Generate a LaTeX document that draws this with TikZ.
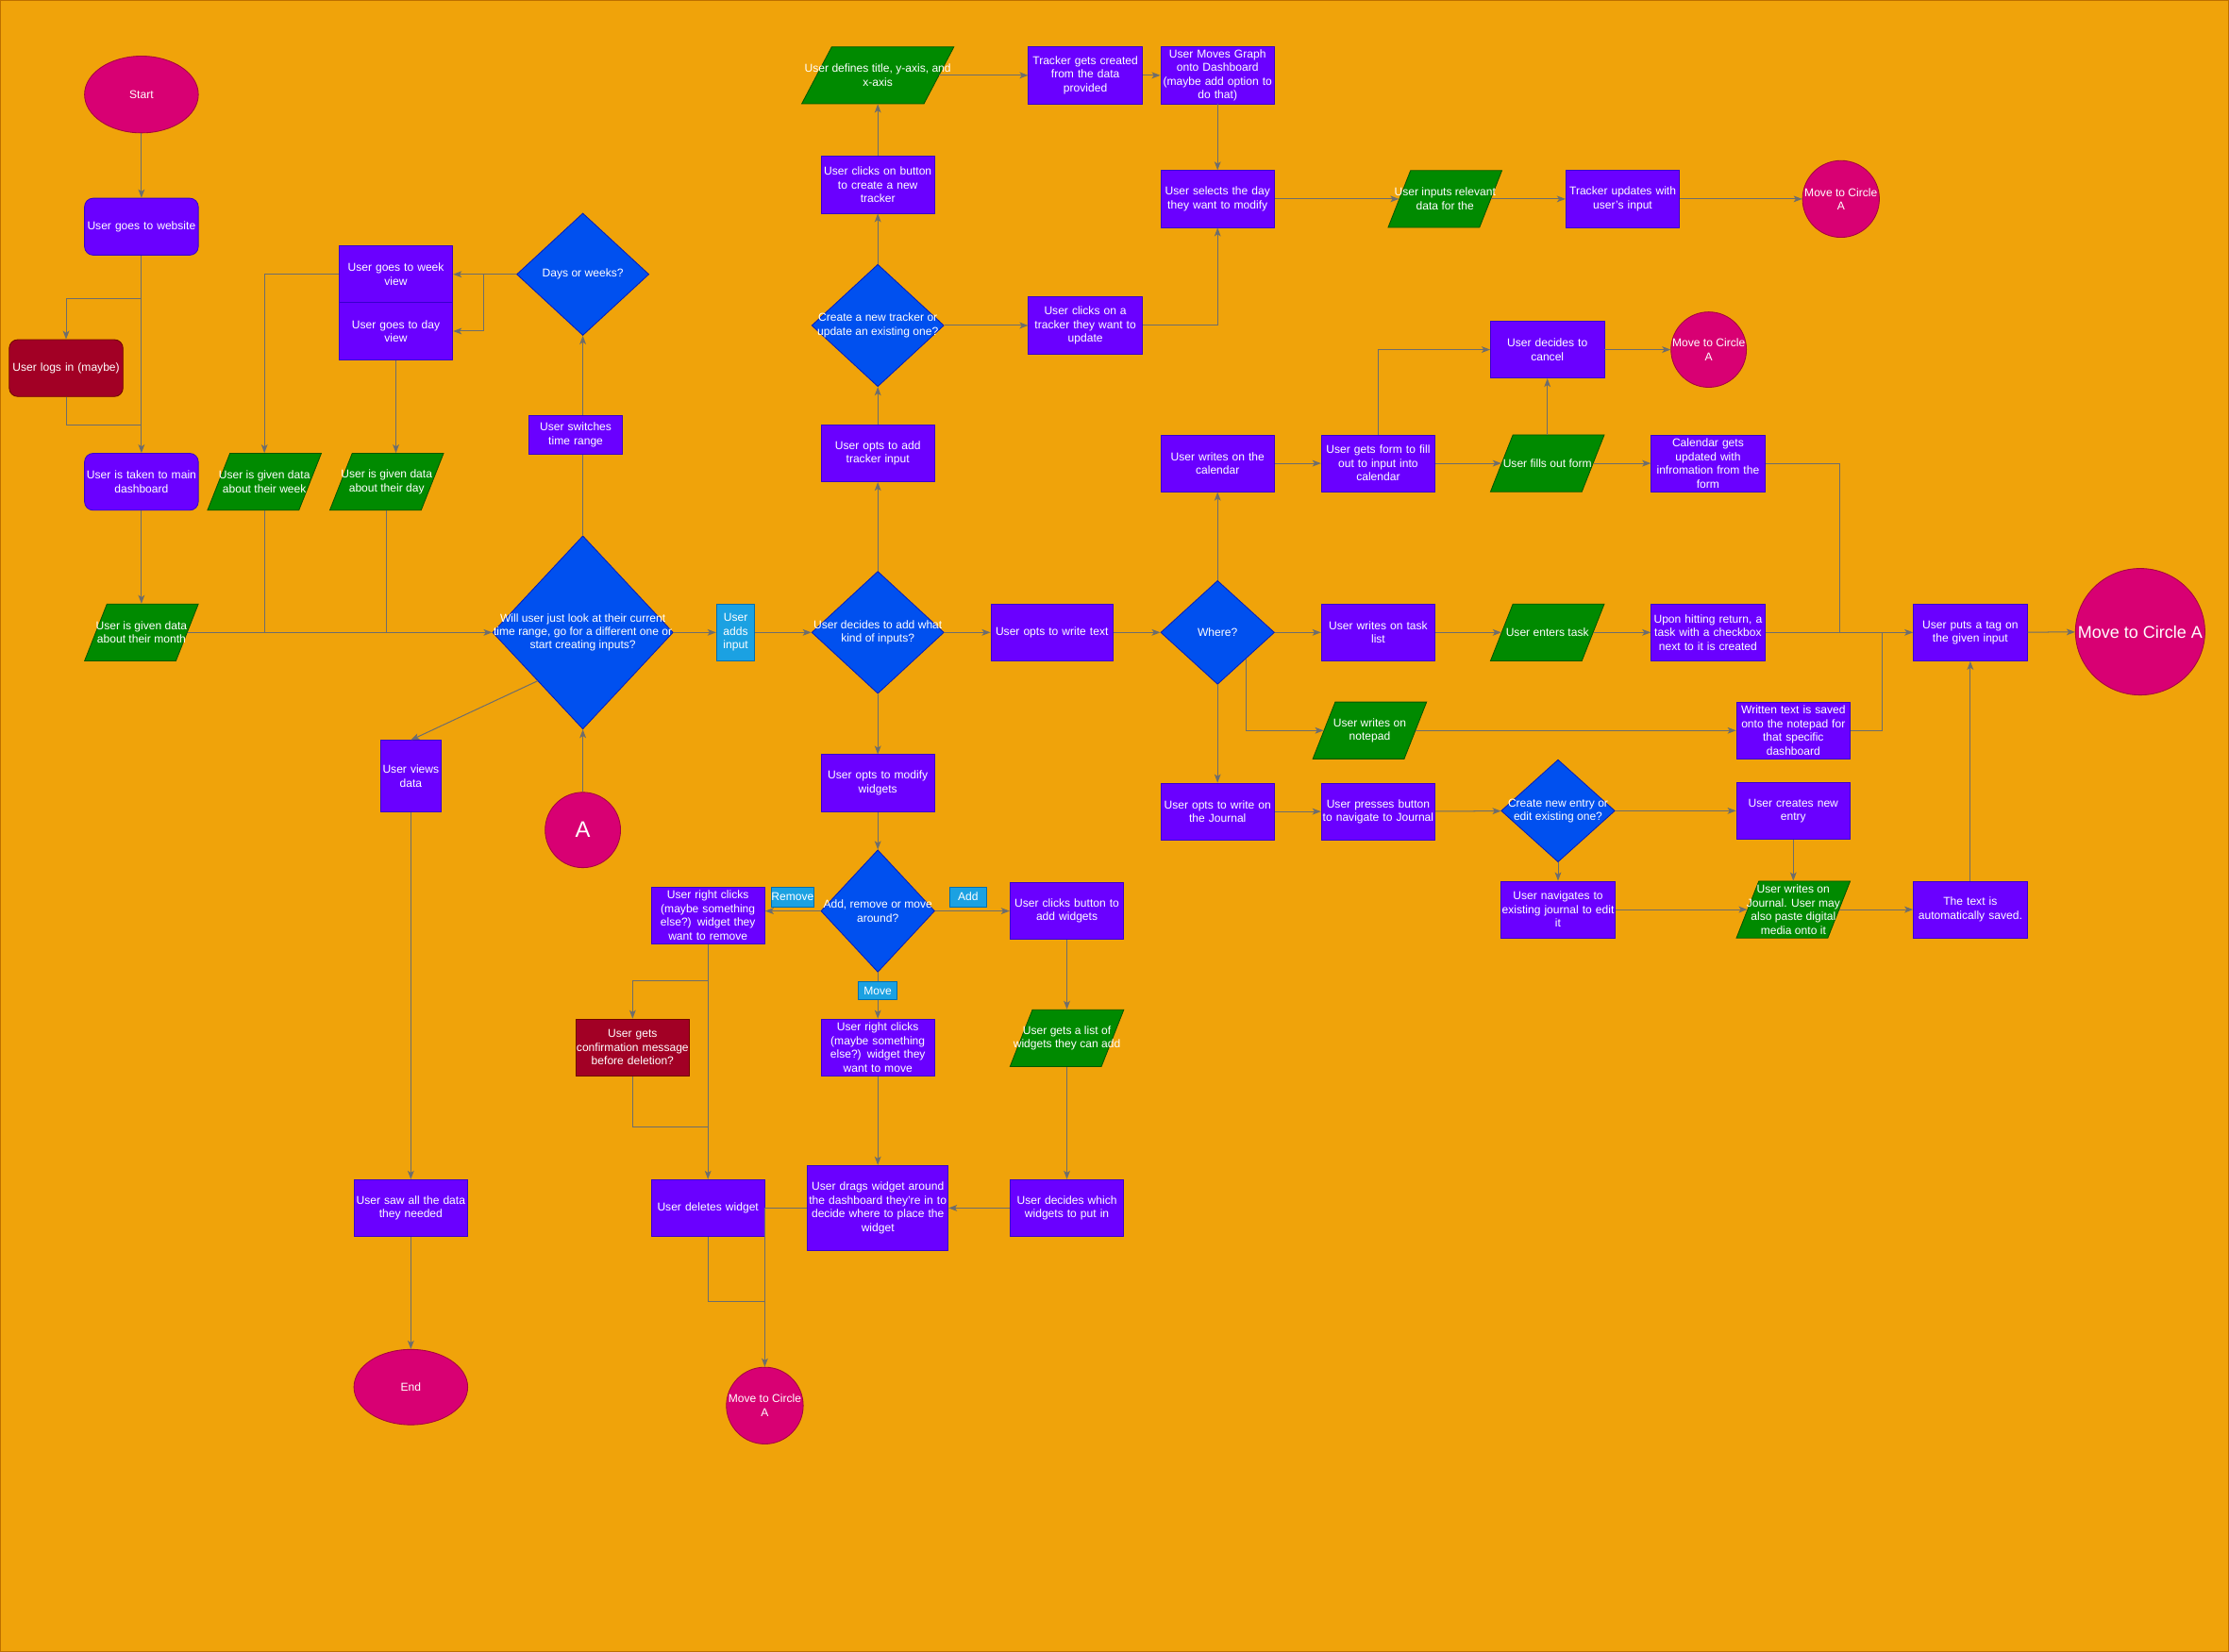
\documentclass[tikz,border=0pt]{standalone}
\usepackage{fontspec}
\setmainfont{Liberation Sans}
\usetikzlibrary{shapes.geometric,arrows.meta}
\definecolor{bgorange}{HTML}{F0A30A}
\definecolor{bgedge}{HTML}{BD7000}
\definecolor{violetfill}{HTML}{6A00FF}
\definecolor{violetedge}{HTML}{3700CC}
\definecolor{greenfill}{HTML}{008A00}
\definecolor{greenedge}{HTML}{005700}
\definecolor{bluefill}{HTML}{0050EF}
\definecolor{blueedge}{HTML}{001DBC}
\definecolor{pinkfill}{HTML}{D80073}
\definecolor{pinkedge}{HTML}{A50040}
\definecolor{redfill}{HTML}{A20025}
\definecolor{rededge}{HTML}{6F0000}
\definecolor{tagfill}{HTML}{1BA1E2}
\definecolor{tagedge}{HTML}{006EAF}
\definecolor{edgegray}{HTML}{6D6D6D}
\tikzset{
  every node/.style={font=\fontsize{22.8}{27.3}\selectfont, text=white, inner sep=0pt, line width=1.6pt},
  box/.style={rectangle, draw=violetedge, fill=violetfill, minimum width=80mm, minimum height=40mm, text width=#1, align=center},
  box/.default=80mm,
  rbox/.style={box, rounded corners=6mm},
  redbox/.style={box, draw=rededge, fill=redfill},
  tagbox/.style={rectangle, draw=tagedge, fill=tagfill, align=center},
  para/.style={trapezium, trapezium left angle=72, trapezium right angle=108, trapezium stretches=true, inner sep=1mm, draw=greenedge, fill=greenfill, minimum width=80mm, minimum height=40mm},
  dec/.style={diamond, inner sep=1mm, draw=blueedge, fill=bluefill},
  term/.style={ellipse, inner sep=1mm, draw=pinkedge, fill=pinkfill},
  txt/.style={align=center, inner sep=0pt},
  bigtxt/.style={align=center, inner sep=0pt, font=\fontsize{34}{40}\selectfont},
  arr/.style={draw=edgegray, line width=1.9pt, -{Stealth[length=6mm,width=4.5mm,inset=1.5mm]}},
  link/.style={draw=edgegray, line width=1.9pt}
}
\begin{document}
\begin{tikzpicture}[x=1mm,y=-1mm]
\useasboundingbox (0,0) rectangle (1568,1162);
\fill[bgorange, draw=bgedge, line width=3pt] (0,0) rectangle (1568,1162);

\node[term, minimum width=80mm, minimum height=54mm, label={[txt]center:Start}] (start) at (99.5,66.5) {};
\node[rbox] (website) at (99.5,159.5) {User goes to website};
\node[rbox, draw=rededge, fill=redfill] (login) at (46.5,259) {User logs in (maybe)};
\node[rbox] (dash) at (99.5,339) {User is taken to main\\dashboard};
\node[para, label={[txt]center:User is given data\\about their month}] (month) at (99.5,445) {};
\node[para, label={[txt]center:User is given data\\about their week}] (weekp) at (186,339) {};
\node[para, label={[txt]center:User is given data\\about their day}] (dayp) at (272,339) {};
\node[box] (weekview) at (278.5,193) {User goes to week\\view};
\node[box] (dayview) at (278.5,233) {User goes to day\\view};
\node[dec, minimum width=93mm, minimum height=86mm, label={[txt]center:Days or weeks?}] (daysq) at (410,193) {};
\node[dec, minimum width=127mm, minimum height=136mm, label={[txt]center:Will user just look at their current\\time range, go for a different one or\\start creating inputs?}] (lookq) at (410,445) {};
\node[tagbox, minimum width=27mm, minimum height=40mm] (addin) at (517.5,445) {User\\adds\\input};
\node[box=43mm, minimum width=43mm, minimum height=50mm] (views) at (289,546) {User views\\data};
\node[term, minimum width=53mm, minimum height=53mm, label={[txt, font=\fontsize{45}{54}\selectfont]center:A}] (circA) at (410,584) {};
\node[box] (sawall) at (289,850) {User saw all the data\\they needed};
\node[term, minimum width=80mm, minimum height=53mm, label={[txt]center:End}] (stop) at (289,976) {};

\node[dec, minimum width=93mm, minimum height=86mm, label={[txt]center:User decides to add what\\kind of inputs?}] (kindq) at (617.5,445) {};
\node[box] (trackin) at (617.5,319) {User opts to add\\tracker input};
\node[dec, minimum width=93mm, minimum height=86mm, label={[txt]center:Create a new tracker or\\update an existing one?}] (trackq) at (617.5,229) {};
\node[box] (newbtn) at (617.5,130) {User clicks on button\\to create a new\\tracker};
\node[para, minimum width=107mm, label={[txt]center:User defines title, y-axis, and\\x-axis}] (definep) at (617.5,53) {};
\node[box] (created) at (763.5,53) {Tracker gets created\\from the data\\provided};
\node[box] (movegraph) at (856.5,53) {User Moves Graph\\onto Dashboard\\(maybe add option to\\do that)};
\node[box] (selday) at (856.5,140) {User selects the day\\they want to modify};
\node[box] (clicktr) at (763.5,229) {User clicks on a\\tracker they want to\\update};
\node[para, label={[txt]center:User inputs relevant\\data for the}] (relevp) at (1016.5,140) {};
\node[box] (trupd) at (1141.5,140) {Tracker updates with\\user's input};
\node[term, minimum width=54mm, minimum height=54mm, label={[txt]center:Move to Circle\\A}] (circT) at (1295,140) {};
\node[box] (cancel) at (1088.5,246) {User decides to\\cancel};
\node[term, minimum width=53mm, minimum height=53mm, label={[txt]center:Move to Circle\\A}] (circC) at (1202,246) {};
\node[box] (calw) at (856.5,326) {User writes on the\\calendar};
\node[box] (form) at (969.5,326) {User gets form to fill\\out to input into\\calendar};
\node[para, label={[txt]center:User fills out form}] (fillp) at (1088.5,326) {};
\node[box] (calupd) at (1201.5,326) {Calendar gets\\updated with\\infromation from the\\form};

\node[box=86mm, minimum width=86mm] (writetext) at (740,445) {User opts to write text};
\node[dec, minimum width=80mm, minimum height=73mm, label={[txt]center:Where?}] (whereq) at (856.5,445) {};
\node[box] (tasklist) at (969.5,445) {User writes on task\\list};
\node[para, label={[txt]center:User enters task}] (taskp) at (1088.5,445) {};
\node[box] (checkbox) at (1201.5,445) {Upon hitting return, a\\task with a checkbox\\next to it is created};
\node[box] (tag) at (1386,445) {User puts a tag on\\the given input};
\node[term, minimum width=91mm, minimum height=89mm, label={[bigtxt]center:Move to Circle A}] (circBig) at (1505.5,444.5) {};
\node[para, label={[txt]center:User writes on\\notepad}] (notep) at (963.5,514) {};
\node[box] (saved) at (1261.5,514) {Written text is saved\\onto the notepad for\\that specific\\dashboard};
\node[box] (journal) at (856.5,571) {User opts to write on\\the Journal};
\node[box] (navbtn) at (969.5,571) {User presses button\\to navigate to Journal};
\node[dec, minimum width=80mm, minimum height=72mm, label={[txt]center:Create new entry or\\edit existing one?}] (entryq) at (1096,570.5) {};
\node[box] (newentry) at (1261.5,570.5) {User creates new\\entry};
\node[box] (navedit) at (1096,640) {User navigates to\\existing journal to edit\\it};
\node[para, label={[txt]center:User writes on\\Journal. User may\\also paste digital\\media onto it}] (jourp) at (1261.5,640) {};
\node[box] (autosave) at (1386,640) {The text is\\automatically saved.};

\node[box] (modwid) at (617.5,551) {User opts to modify\\widgets};
\node[dec, minimum width=80mm, minimum height=86mm, label={[txt]center:Add, remove or move\\around?}] (widq) at (617.5,641) {};
\node[box] (rmclick) at (498,644) {User right clicks\\(maybe something\\else?) widget they\\want to remove};
\node[redbox] (confirm) at (445,737) {User gets\\confirmation message\\before deletion?};
\node[box] (delwid) at (498,850) {User deletes widget};
\node[term, minimum width=54mm, minimum height=54mm, label={[txt]center:Move to Circle\\A}] (circD) at (538,989) {};
\node[box] (mvclick) at (617.5,737) {User right clicks\\(maybe something\\else?) widget they\\want to move};
\node[box] (addbtn) at (750.5,641) {User clicks button to\\add widgets};
\node[para, label={[txt]center:User gets a list of\\widgets they can add}] (listp) at (750.5,730.5) {};
\node[box] (whichwid) at (750.5,850) {User decides which\\widgets to put in};
\node[box=99mm, minimum width=99mm, minimum height=60mm] (drag) at (617.5,850) {User drags widget around\\the dashboard they're in to\\decide where to place the\\widget};
\node[tagbox, minimum width=27mm, minimum height=14mm] (lbRemove) at (557.5,631) {Remove};
\node[tagbox, minimum width=26mm, minimum height=14mm] (lbAdd) at (681,631) {Add};

\coordinate (joinL) at (99.5,299);
\coordinate (joinA) at (1294,445);
\coordinate (joinB) at (1324,445);
\coordinate (joinC) at (498,793);
\coordinate (joinD) at (538,916);

\draw[arr] (start) -- (website);
\draw[arr] (website) -- (dash);
\draw[arr] (website.south) ++(0,30) -| (login.north);
\draw[link] (login.south) |- (joinL);
\draw[arr] (dash) -- (month);
\draw[arr] (month) -- (lookq);
\draw[link] (weekp.south) -- (weekp.south |- lookq.west);
\draw[link] (dayp.south) -- (dayp.south |- lookq.west);
\draw[arr] (weekview.west) -| (weekp.north);
\draw[arr] (dayview.south) -- (dayview.south |- dayp.north);
\draw[arr] (daysq.west) -- (weekview.east);
\draw[arr] (daysq.west) ++(-23,0) |- (dayview.east);
\draw[arr] (lookq.north) -- (daysq.south);
\node[box=66mm, minimum width=66mm, minimum height=27mm] (switch) at (405,306) {User switches\\time range};
\draw[arr] (lookq.south west) -- (views.north);
\draw[arr] (circA) -- (lookq);
\draw[arr] (lookq) -- (addin);
\draw[arr] (addin) -- (kindq);
\draw[arr] (views) -- (sawall);
\draw[arr] (sawall) -- (stop);

\draw[arr] (kindq) -- (trackin);
\draw[arr] (trackin) -- (trackq);
\draw[arr] (trackq) -- (newbtn);
\draw[arr] (newbtn) -- (definep);
\draw[arr] (definep) -- (created);
\draw[arr] (created) -- (movegraph);
\draw[arr] (movegraph) -- (selday);
\draw[arr] (trackq) -- (clicktr);
\draw[arr] (clicktr.east) -| (selday.south);
\draw[arr] (selday) -- (relevp);
\draw[arr] (relevp) -- (trupd);
\draw[arr] (trupd) -- (circT);

\draw[arr] (kindq) -- (writetext);
\draw[arr] (writetext) -- (whereq);
\draw[arr] (whereq) -- (calw);
\draw[arr] (calw) -- (form);
\draw[arr] (form.north) |- (cancel.west);
\draw[arr] (form) -- (fillp);
\draw[arr] (fillp) -- (cancel);
\draw[arr] (cancel) -- (circC);
\draw[arr] (fillp) -- (calupd);
\draw[link] (calupd.east) -| (joinA);
\draw[arr] (whereq) -- (tasklist);
\draw[arr] (tasklist) -- (taskp);
\draw[arr] (taskp) -- (checkbox);
\draw[arr] (checkbox) -- (tag);
\draw[arr] (tag) -- (circBig);
\draw[arr] (whereq.south east) |- (notep.west);
\draw[arr] (notep) -- (saved);
\draw[link] (saved.east) -| (joinB);
\draw[arr] (whereq) -- (journal);
\draw[arr] (journal) -- (navbtn);
\draw[arr] (navbtn) -- (entryq);
\draw[arr] (entryq) -- (newentry);
\draw[arr] (entryq) -- (navedit);
\draw[arr] (newentry) -- (jourp);
\draw[arr] (navedit) -- (jourp);
\draw[arr] (jourp) -- (autosave);
\draw[arr] (autosave) -- (tag);

\draw[arr] (kindq) -- (modwid);
\draw[arr] (modwid) -- (widq);
\draw[arr] (widq.west) -- (widq.west -| rmclick.east);
\draw[arr] (widq) -- (addbtn);
\draw[arr] (widq) -- (mvclick);
\node[tagbox, minimum width=27mm, minimum height=13mm] (lbMove) at (617.5,697) {Move};
\draw[arr] (rmclick) -- (delwid);
\draw[arr] (rmclick.south) ++(0,26) -| (confirm.north);
\draw[link] (confirm.south) |- (joinC);
\draw[arr] (mvclick) -- (drag);
\draw[arr] (addbtn) -- (listp);
\draw[arr] (listp) -- (whichwid);
\draw[arr] (whichwid) -- (drag);
\draw[arr] (drag.west) -| (circD.north);
\draw[link] (delwid.south) |- (joinD);
\end{tikzpicture}
\end{document}
